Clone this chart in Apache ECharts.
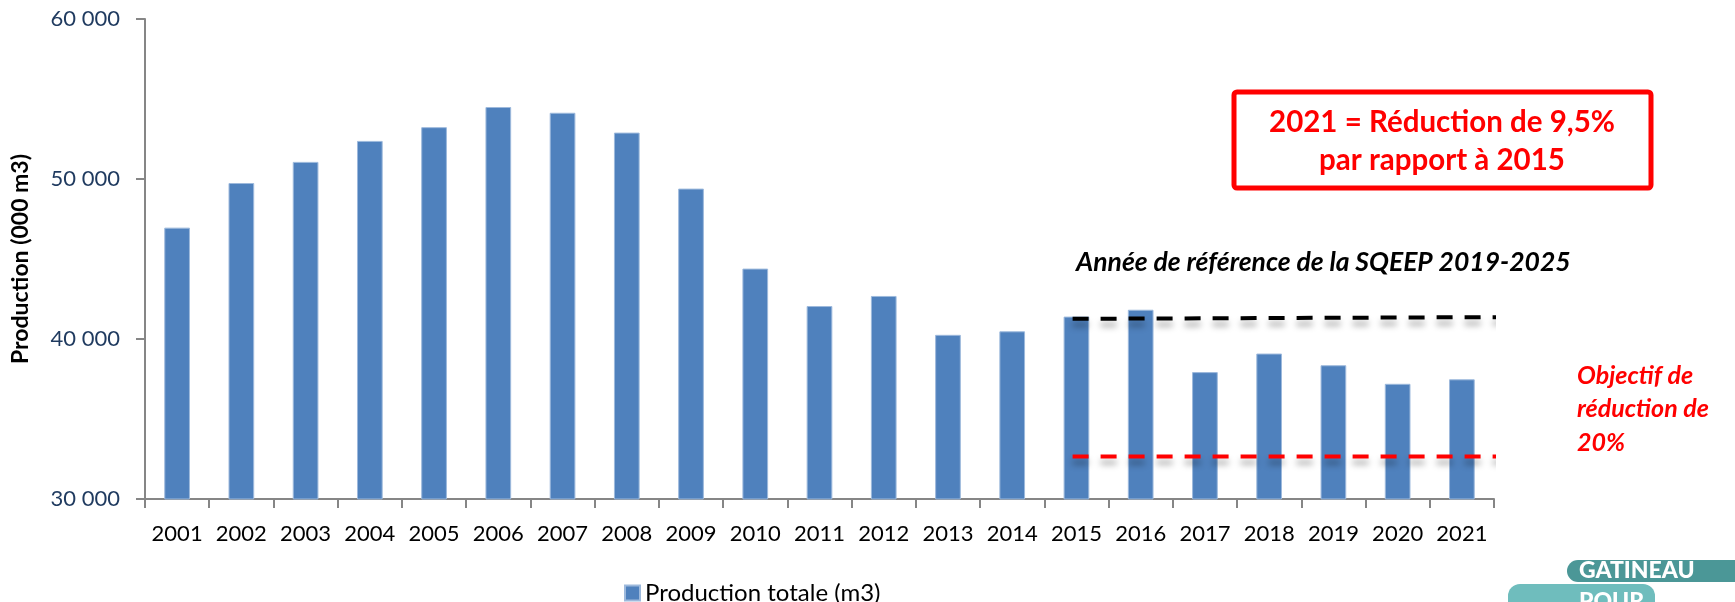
<!DOCTYPE html>
<html>
<head>
<meta charset="utf-8">
<script src="https://cdn.jsdelivr.net/npm/echarts@6/dist/echarts.min.js"></script>
<style>
html,body{margin:0;padding:0;background:#fff;}
#chart{width:1735px;height:602px;}
</style>
</head>
<body>
<div id="chart"></div>
<script>
var years = ['2001','2002','2003','2004','2005','2006','2007','2008','2009','2010','2011','2012','2013','2014','2015','2016','2017','2018','2019','2020','2021'];
var production = [46960, 49750, 51070, 52380, 53240, 54500, 54140, 52900, 49400, 44400, 42060, 42690, 40260, 40480, 41400, 41830, 37930, 39090, 38360, 37200, 37480];
var refLine = [[14.44, 41260], [21.23, 41370]];
var targetLine = [[14.44, 32660], [21.23, 32660]];
var seriesName = 'Production totale (m3)';
var yAxisName = 'Production (000 m3)';
var boxLines = ['2021 = Réduction de 9,5%', 'par rapport à 2015'];
var refLabel = 'Année de référence de la SQEEP 2019-2025';
var targetLabel = ['Objectif de', 'réduction de', '20%'];

var FONT = 'Lato, "Open Sans", sans-serif';
var chart = echarts.init(document.getElementById('chart'));
chart.setOption({
  animation: false,
  backgroundColor: '#ffffff',
  textStyle: { fontFamily: FONT },
  grid: { left: 145, right: 241, top: 19, bottom: 103, containLabel: false },
  legend: {
    left: 619, top: 576,
    itemWidth: 15, itemHeight: 15, itemGap: 8,
    icon: 'rect',
    textStyle: { fontSize: 24, color: '#000', fontFamily: FONT },
    data: [seriesName]
  },
  xAxis: [{
    type: 'category',
    data: years,
    axisLine: { lineStyle: { color: '#868686', width: 2 } },
    axisTick: { show: true, length: 9, lineStyle: { color: '#868686', width: 2 } },
    axisLabel: { fontSize: 22, color: '#000', margin: 24, interval: 0, fontFamily: FONT }
  }, {
    type: 'value', min: 0, max: 21, show: false
  }],
  yAxis: {
    type: 'value', min: 30000, max: 60000, interval: 10000,
    name: yAxisName, nameLocation: 'middle', nameGap: 113, nameRotate: 90,
    nameTextStyle: { fontSize: 23, fontWeight: 'bold', color: '#000', fontFamily: FONT },
    axisLine: { show: true, lineStyle: { color: '#868686', width: 2 } },
    axisTick: { show: true, length: 9, lineStyle: { color: '#868686', width: 2 } },
    splitLine: { show: false },
    axisLabel: {
      fontSize: 22, color: '#1F3A5F', margin: 25, fontFamily: FONT,
      formatter: function (v) { return String(v).replace(/\B(?=(\d{3})+(?!\d))/g, ' '); }
    }
  },
  series: [{
    name: seriesName,
    type: 'bar',
    data: production,
    barWidth: '40%',
    itemStyle: { color: '#4F81BD', borderColor: '#9DB9DC', borderWidth: 1 }
  }, {
    type: 'line', xAxisIndex: 1, data: refLine, symbol: 'none', clip: false, silent: true,
    lineStyle: { color: '#000', width: 4, type: [16, 12], shadowColor: 'rgba(0,0,0,0.35)', shadowBlur: 6, shadowOffsetY: 6 },
    z: 5
  }, {
    type: 'line', xAxisIndex: 1, data: targetLine, symbol: 'none', clip: false, silent: true,
    lineStyle: { color: '#FF0000', width: 4, type: [16, 12], shadowColor: 'rgba(0,0,0,0.35)', shadowBlur: 6, shadowOffsetY: 6 },
    z: 5
  }],
  graphic: [
    { type: 'rect', shape: { x: 1234, y: 92, width: 417, height: 96, r: 3 },
      style: { fill: '#fff', stroke: '#FF0000', lineWidth: 5 }, z: 10 },
    { type: 'text', x: 1442, y: 122, z: 11,
      style: { text: boxLines[0], fill: '#FF0000', font: 'bold 29.5px ' + FONT, textAlign: 'center', textVerticalAlign: 'middle' } },
    { type: 'text', x: 1442, y: 160, z: 11,
      style: { text: boxLines[1], fill: '#FF0000', font: 'bold 29.5px ' + FONT, textAlign: 'center', textVerticalAlign: 'middle' } },
    { type: 'text', x: 1076, y: 262, z: 11,
      style: { text: refLabel, fill: '#000', font: 'italic bold 26.5px ' + FONT, textAlign: 'left', textVerticalAlign: 'middle' } },
    { type: 'text', x: 1577, y: 376, z: 11,
      style: { text: targetLabel[0], fill: '#FF0000', font: 'italic bold 25px ' + FONT, textAlign: 'left', textVerticalAlign: 'middle' } },
    { type: 'text', x: 1577, y: 409, z: 11,
      style: { text: targetLabel[1], fill: '#FF0000', font: 'italic bold 25px ' + FONT, textAlign: 'left', textVerticalAlign: 'middle' } },
    { type: 'text', x: 1577, y: 443, z: 11,
      style: { text: targetLabel[2], fill: '#FF0000', font: 'italic bold 25px ' + FONT, textAlign: 'left', textVerticalAlign: 'middle' } },
    { type: 'rect', shape: { x: 1567, y: 560, width: 190, height: 22, r: 11 }, style: { fill: '#4B9797' }, z: 10 },
    { type: 'rect', shape: { x: 1508, y: 584, width: 147, height: 30, r: 12 }, style: { fill: '#6FBDBD' }, z: 10 },
    { type: 'text', x: 1579, y: 571, z: 11,
      style: { text: 'GATINEAU', fill: '#fff', font: '900 23px ' + FONT, textAlign: 'left', textVerticalAlign: 'middle' } },
    { type: 'text', x: 1579, y: 602, z: 11,
      style: { text: 'POUR', fill: '#fff', font: '900 23px ' + FONT, textAlign: 'left', textVerticalAlign: 'middle' } }
  ]
});
</script>
</body>
</html>
